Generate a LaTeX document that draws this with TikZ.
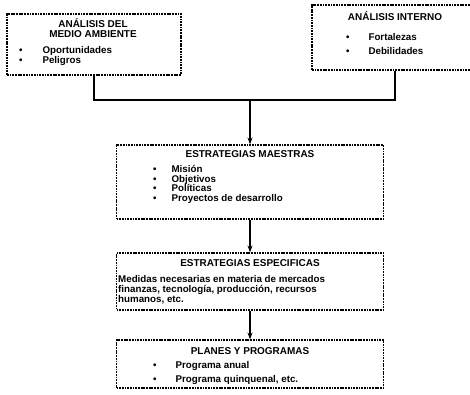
\documentclass[tikz,border=0pt]{standalone}
\usepackage{fontspec}
\setmainfont{Liberation Sans}
\usetikzlibrary{arrows.meta,positioning}

\begin{document}
\begin{tikzpicture}[x=1bp, y=-1bp,
    block/.style={rectangle, draw, line width=1.2pt, dash pattern=on 1.8pt off 0.9pt, inner sep=0pt},
    title/.style={font=\fontsize{10}{10}\selectfont\bfseries, align=center, inner sep=0pt},
    txt/.style={anchor=west, align=left, inner sep=0pt},
    line/.style={line width=1.5pt},
    arrow/.style={line, -{Stealth[length=7pt,width=5pt]}}]

    \useasboundingbox (0,0) rectangle (470,394);

    % boxes
    \node[block, minimum width=174bp, minimum height=61bp] (amb) at (94,44.5) {};
    \node[block, minimum width=166bp, minimum height=65bp] (intr) at (395,37.5) {};
    \node[block, minimum width=267bp, minimum height=74bp] (mae) at (250,182) {};
    \node[block, minimum width=267bp, minimum height=57bp] (esp) at (250,281.5) {};
    \node[block, minimum width=267bp, minimum height=48bp] (pla) at (250,364) {};

    % texts
    \node[title] (ambTitle) at (93,28.5) {ANÁLISIS DEL\\MEDIO AMBIENTE};
    \node[txt, font=\fontsize{9.8}{10}\selectfont\bfseries] (ambList) at (19,56)
        {\begin{tabular}{@{}l@{\hspace{20pt}}l@{}}\textbullet & Oportunidades\\ \textbullet & Peligros\end{tabular}};

    \node[title] (intTitle) at (395,16) {ANÁLISIS INTERNO};
    \node[txt, font=\fontsize{9.8}{15}\selectfont\bfseries] (intList) at (346,44.5)
        {\begin{tabular}{@{}l@{\hspace{19pt}}l@{}}\textbullet & Fortalezas\\ \textbullet & Debilidades\end{tabular}};

    \node[title] (maeTitle) at (250,154) {ESTRATEGIAS MAESTRAS};
    \node[txt, font=\fontsize{9.8}{7.8}\selectfont\bfseries] (maeList) at (153,184.5)
        {\begin{tabular}{@{}l@{\hspace{15pt}}l@{}}\textbullet & Misión\\ \textbullet & Objetivos\\ \textbullet & Políticas\\ \textbullet & Proyectos de desarrollo\end{tabular}};

    \node[title] (espTitle) at (250,263) {ESTRATEGIAS ESPECIFICAS};
    \node[txt, font=\fontsize{9.8}{10}\selectfont\bfseries] (espText) at (118,290)
        {Medidas necesarias en materia de mercados\\finanzas, tecnología, producción, recursos\\humanos, etc.};

    \node[title] (plaTitle) at (250,351) {PLANES Y PROGRAMAS};
    \node[txt, font=\fontsize{9.8}{15}\selectfont\bfseries] (plaList) at (153,372.5)
        {\begin{tabular}{@{}l@{\hspace{19pt}}l@{}}\textbullet & Programa anual\\ \textbullet & Programa quinquenal, etc.\end{tabular}};

    % connectors
    \coordinate (join) at (250,100);
    \draw[line] (amb.south) |- (join) -| (intr.south);
    \draw[arrow] (join) -- (mae.north);
    \draw[arrow] (mae) -- (esp);
    \draw[arrow] (esp) -- (pla);
\end{tikzpicture}
\end{document}
